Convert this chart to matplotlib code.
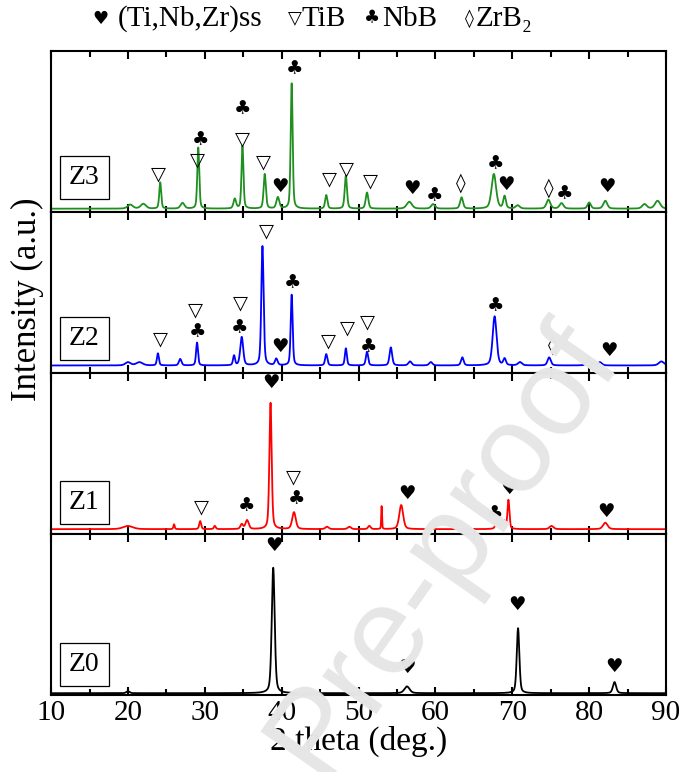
import matplotlib
matplotlib.use('Agg')
import matplotlib.pyplot as plt
import numpy as np

plt.rcParams['font.family'] = ['Liberation Serif', 'DejaVu Sans']

# sample names, top to bottom
samples = ['Z3', 'Z2', 'Z1', 'Z0']
colors = ['#1f8f1f', '#0000ff', '#ff0000', '#000000']

# background level of each pattern (fraction of panel height)
base = [0.02, 0.046, 0.029, 0.01]

# peaks: 2theta, height above background, FWHM
z3_pos = [20.3, 22.0, 24.2, 27.1, 29.15, 33.9, 34.9, 37.8, 39.5, 41.3, 45.8, 48.35, 51.1,
          56.6, 59.7, 63.4, 67.6, 69.0, 70.7, 74.7, 76.4, 80.0, 82.1, 87.2, 88.9]
z3_hgt = [0.025, 0.03, 0.163, 0.035, 0.38, 0.06, 0.39, 0.215, 0.07, 0.78, 0.084, 0.205, 0.10,
          0.043, 0.028, 0.07, 0.215, 0.076, 0.02, 0.055, 0.034, 0.038, 0.049, 0.028, 0.049]
z3_wid = [0.8, 0.8, 0.3, 0.6, 0.3, 0.4, 0.3, 0.35, 0.45, 0.3, 0.35, 0.35, 0.4,
          0.8, 0.6, 0.45, 0.7, 0.4, 0.6, 0.6, 0.6, 0.5, 0.6, 0.7, 0.8]

z2_pos = [20.0, 21.5, 23.9, 26.8, 28.99, 33.8, 34.8, 37.5, 39.3, 41.3, 45.8, 48.35, 51.1,
          54.2, 56.7, 59.4, 63.5, 67.7, 69.0, 71.0, 74.8, 79.9, 81.4, 89.4]
z2_hgt = [0.02, 0.02, 0.075, 0.04, 0.142, 0.06, 0.176, 0.742, 0.04, 0.44, 0.07, 0.106, 0.085,
          0.112, 0.025, 0.021, 0.05, 0.305, 0.04, 0.02, 0.05, 0.05, 0.02, 0.025]
z2_wid = [0.8, 1.0, 0.3, 0.4, 0.3, 0.3, 0.45, 0.35, 0.4, 0.3, 0.35, 0.3, 0.35,
          0.4, 0.5, 0.5, 0.4, 0.6, 0.4, 0.6, 0.5, 0.5, 0.6, 0.8]

z1_pos = [20.0, 26.0, 29.4, 31.3, 34.8, 35.5, 38.55, 41.6, 45.9, 48.8, 51.4, 53.0,
          55.55, 68.1, 68.9, 69.5, 75.1, 82.1]
z1_hgt = [0.02, 0.03, 0.05, 0.02, 0.03, 0.055, 0.785, 0.105, 0.015, 0.015, 0.02, 0.145,
          0.15, 0.07, 0.05, 0.18, 0.02, 0.04]
z1_wid = [1.5, 0.2, 0.3, 0.3, 0.4, 0.5, 0.35, 0.55, 0.5, 0.5, 0.4, 0.12,
          0.6, 0.5, 0.4, 0.3, 0.6, 0.7]

z0_pos = [20.0, 38.9, 56.3, 70.75, 83.3]
z0_hgt = [0.012, 0.78, 0.042, 0.404, 0.069]
z0_wid = [0.5, 0.45, 0.8, 0.4, 0.5]

peaks = [(z3_pos, z3_hgt, z3_wid), (z2_pos, z2_hgt, z2_wid),
         (z1_pos, z1_hgt, z1_wid), (z0_pos, z0_hgt, z0_wid)]

# phase labels: symbol key, 2theta, height (fraction of panel)
z3_marks = [('t', 24.0, 0.235), ('c', 29.4, 0.45), ('t', 29.1, 0.32), ('c', 34.9, 0.64),
            ('t', 34.9, 0.454), ('t', 37.6, 0.31), ('h', 39.75, 0.158), ('c', 41.7, 0.89),
            ('t', 46.2, 0.204), ('t', 48.4, 0.267), ('t', 51.5, 0.194), ('h', 57.0, 0.148),
            ('c', 59.9, 0.104), ('d', 63.3, 0.18), ('c', 67.8, 0.30), ('h', 69.2, 0.173),
            ('d', 74.7, 0.148), ('c', 76.8, 0.115), ('h', 82.3, 0.158)]
z2_marks = [('t', 24.2, 0.212), ('t', 28.8, 0.388), ('c', 29.0, 0.257), ('t', 34.6, 0.434),
            ('c', 34.5, 0.279), ('t', 38.0, 0.883), ('h', 39.75, 0.162), ('c', 41.45, 0.56),
            ('t', 46.1, 0.196), ('t', 48.6, 0.277), ('t', 51.2, 0.319), ('c', 51.3, 0.166),
            ('c', 67.8, 0.418), ('d', 75.2, 0.172), ('h', 82.6, 0.137)]
z1_marks = [('t', 29.55, 0.167), ('c', 35.4, 0.173), ('h', 38.6, 0.943), ('t', 41.55, 0.351),
            ('c', 42.0, 0.218), ('h', 56.3, 0.249), ('c', 67.7, 0.127), ('h', 69.6, 0.282),
            ('h', 82.2, 0.139)]
z0_marks = [('h', 39.0, 0.925), ('h', 56.3, 0.17), ('h', 70.6, 0.56), ('h', 83.2, 0.178)]
marks = [z3_marks, z2_marks, z1_marks, z0_marks]

symbols = {'h': '\u2665', 't': '\u25BD', 'c': '\u2663', 'd': '\u25CA'}

# phase legend above the plot
legend_sym = ['h', 't', 'c', 'd']
legend_txt = ['(Ti,Nb,Zr)ss', 'TiB', 'NbB', 'ZrB\u2082']

x = np.linspace(10, 90, 4000)


def profile(pos, hgt, wid):
    # pseudo-Voigt peaks on a flat background
    y = np.zeros_like(x)
    for p, h, w in zip(pos, hgt, wid):
        g = np.exp(-4*np.log(2)*((x-p)/w)**2)
        l = 1/(1+4*((x-p)/w)**2)
        y += h*(0.6*g + 0.4*l)
    return y


fig, axes = plt.subplots(4, 1, figsize=(6.81, 7.72), dpi=100, sharex=True)
fig.subplots_adjust(left=0.075, right=0.978, top=0.934, bottom=0.1, hspace=0)

box_y = [0.215, 0.215, 0.195, 0.19]
for ax, name, col, b, pk, mk, by in zip(axes, samples, colors, base, peaks, marks, box_y):
    ax.plot(x, b + profile(*pk), color=col, lw=1.3)
    ax.set_xlim(10, 90)
    ax.set_ylim(0, 1)
    ax.set_yticks([])
    ax.set_xticks(np.arange(10, 91, 10))
    ax.set_xticks(np.arange(15, 90, 10), minor=True)
    ax.tick_params(axis='x', which='both', direction='in', top=True, bottom=True, width=1.5)
    ax.tick_params(axis='x', which='major', length=6, labelsize=21)
    ax.tick_params(axis='x', which='minor', length=4)
    for s in ax.spines.values():
        s.set_linewidth(1.5)
    ax.text(0.054, by, name, transform=ax.transAxes, fontsize=20, ha='center', va='center',
            bbox=dict(boxstyle='square,pad=0.33', fc='white', ec='black', lw=0.9))
    for key, px, py in mk:
        ax.text(px, py, symbols[key], fontsize=14, ha='center', va='center',
                family=['DejaVu Sans'])

axes[-1].set_xlabel('2 theta (deg.)', fontsize=24, labelpad=0)
fig.text(0.041, 0.612, 'Intensity (a.u.)', rotation=90, fontsize=25, ha='center', va='center')

sym_x = [0.147, 0.433, 0.546, 0.689]
txt_x = [0.173, 0.443, 0.561, 0.699]
for k, t, sx, tx in zip(legend_sym, legend_txt, sym_x, txt_x):
    fig.text(sx, 0.976, symbols[k], fontsize=13, ha='center', va='center', family=['DejaVu Sans'])
    fig.text(tx, 0.976, t, fontsize=21, ha='left', va='center')

# watermark
fig.text(0.652, 0.29, 'Pre-proof', fontsize=90, rotation=55, color='#e6e6e6',
         ha='center', va='center', family=['Liberation Sans'], zorder=10)

plt.savefig('out.png', dpi=100)
